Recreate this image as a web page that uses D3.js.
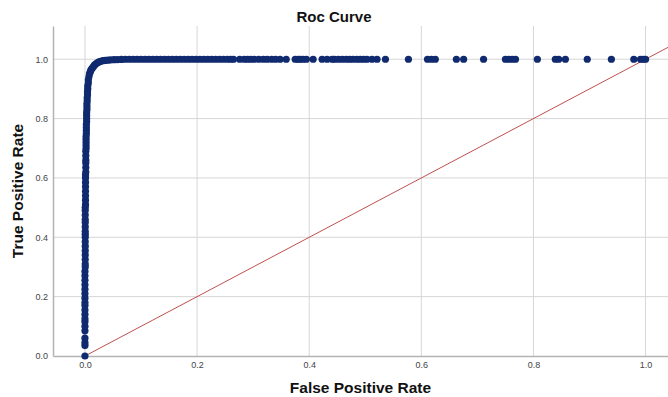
<!DOCTYPE html>
<html>
<head>
<meta charset="utf-8">
<script src="https://cdn.jsdelivr.net/npm/d3@7"></script>
<style>
  html, body { margin: 0; padding: 0; background: #fff; }
  svg { display: block; font-family: Arial, "Liberation Sans", sans-serif; }
</style>
</head>
<body>
<div id="chart"></div>
<script>
// chart text
const chartTitle = 'Roc Curve';
const xTitle = 'False Positive Rate';
const yTitle = 'True Positive Rate';

// tick labels
const xTicks = [0, 0.2, 0.4, 0.6, 0.8, 1.0];
const yTicks = [0, 0.2, 0.4, 0.6, 0.8, 1.0];

// steep part of the curve, fpr close to 0
const verticalTpr = [0, 0.035, 0.045, 0.06, 0.085, 0.10, 0.115, 0.125, 0.14, 0.155,
  0.17, 0.18, 0.195, 0.21, 0.225, 0.24, 0.255, 0.27, 0.285, 0.30,
  0.31, 0.325, 0.34, 0.355, 0.37, 0.385, 0.40, 0.41, 0.42, 0.435,
  0.45, 0.46, 0.475, 0.49, 0.50, 0.51, 0.525, 0.54, 0.555, 0.57,
  0.585, 0.60, 0.61, 0.62, 0.635, 0.65, 0.66, 0.675, 0.69, 0.70,
  0.71, 0.72, 0.73, 0.74, 0.75, 0.76, 0.77, 0.78, 0.79, 0.80,
  0.81, 0.82, 0.83, 0.84, 0.85, 0.86, 0.87, 0.88, 0.89, 0.90];
const verticalFpr = [0, 0, 0, 0, 0, 0, 0, 0, 0, 0,
  0, 0, 0, 0, 0, 0, 0, 0, 0, 0.0005,
  0.0005, 0.0005, 0.0005, 0.0005, 0.0005, 0.0005, 0.0005, 0.0005, 0.0005, 0.0005,
  0.0005, 0.0005, 0.0005, 0.0005, 0.0005, 0.001, 0.001, 0.001, 0.001, 0.001,
  0.001, 0.001, 0.001, 0.0015, 0.0015, 0.0015, 0.0015, 0.0015, 0.0015, 0.002,
  0.002, 0.002, 0.002, 0.002, 0.0025, 0.0025, 0.0025, 0.0025, 0.003, 0.003,
  0.003, 0.003, 0.0035, 0.0035, 0.0035, 0.004, 0.004, 0.0045, 0.0045, 0.005];

// bend of the curve
const elbowFpr = [0.005, 0.006, 0.006, 0.007, 0.008, 0.009, 0.010, 0.011, 0.013, 0.015,
  0.017, 0.019, 0.022, 0.025, 0.028, 0.032, 0.036, 0.041, 0.046, 0.052, 0.058, 0.065];
const elbowTpr = [0.91, 0.92, 0.93, 0.94, 0.95, 0.955, 0.96, 0.965, 0.97, 0.975,
  0.98, 0.984, 0.988, 0.991, 0.993, 0.995, 0.996, 0.997, 0.998, 0.9985, 0.999, 0.9995];

// points sitting on tpr = 1
const plateauFpr = [0.072, 0.079, 0.086, 0.093, 0.10, 0.107, 0.114, 0.121, 0.128, 0.135,
  0.142, 0.149, 0.156, 0.163, 0.17, 0.177, 0.184, 0.191, 0.198, 0.205,
  0.212, 0.219, 0.226, 0.233, 0.24, 0.247, 0.254, 0.26, 0.265, 0.276,
  0.284, 0.29, 0.296, 0.302, 0.31, 0.318, 0.325, 0.333, 0.34, 0.348,
  0.359, 0.375, 0.38, 0.384, 0.389, 0.395, 0.407, 0.423, 0.432, 0.441,
  0.445, 0.452, 0.459, 0.466, 0.472, 0.478, 0.485, 0.491, 0.497, 0.503,
  0.512, 0.521, 0.536, 0.577, 0.611, 0.618, 0.625, 0.6625, 0.6755, 0.711,
  0.75, 0.756, 0.762, 0.768, 0.807, 0.839, 0.845, 0.857, 0.896, 0.939,
  0.979, 0.991, 0.996, 1.0];

// reference diagonal
const diagonal = [0, 1.04];

const width = 668;
const height = 397;
const margin = { top: 26, right: 0, bottom: 41, left: 53 };

const points = [
  ...verticalFpr.map((f, i) => ({ fpr: f, tpr: verticalTpr[i] })),
  ...elbowFpr.map((f, i) => ({ fpr: f, tpr: elbowTpr[i] })),
  ...plateauFpr.map(f => ({ fpr: f, tpr: 1 }))
];

const svg = d3.select('#chart')
  .append('svg')
  .attr('width', width)
  .attr('height', height);

const x = d3.scaleLinear()
  .domain([-0.057, 1.04])
  .range([margin.left, width - margin.right]);

const y = d3.scaleLinear()
  .domain([0, 1.112])
  .range([height - margin.bottom, margin.top]);

// grid
svg.append('g')
  .selectAll('line')
  .data(xTicks)
  .join('line')
  .attr('x1', d => x(d)).attr('x2', d => x(d))
  .attr('y1', y.range()[0]).attr('y2', y.range()[1])
  .attr('stroke', '#d6d6d6')
  .attr('stroke-width', 1);

svg.append('g')
  .selectAll('line')
  .data(yTicks.filter(d => d > 0))
  .join('line')
  .attr('x1', x.range()[0]).attr('x2', x.range()[1])
  .attr('y1', d => y(d)).attr('y2', d => y(d))
  .attr('stroke', '#d6d6d6')
  .attr('stroke-width', 1);

// axes
const xAxis = svg.append('g')
  .attr('transform', `translate(0,${y.range()[0]})`)
  .call(d3.axisBottom(x).tickValues(xTicks).tickSize(0).tickPadding(6).tickFormat(d3.format('.1f')));

const yAxis = svg.append('g')
  .attr('transform', `translate(${x.range()[0]},0)`)
  .call(d3.axisLeft(y).tickValues(yTicks).tickSize(0).tickPadding(5).tickFormat(d3.format('.1f')));

[xAxis, yAxis].forEach(g => {
  g.select('.domain').attr('stroke', '#b3b3b3').attr('stroke-width', 1.5);
  g.selectAll('text')
    .attr('fill', '#444')
    .style('font-size', '9px')
    .style('font-family', 'Arial, "Liberation Sans", sans-serif');
});

// diagonal line
svg.append('line')
  .attr('x1', x(diagonal[0])).attr('y1', y(diagonal[0]))
  .attr('x2', x(diagonal[1])).attr('y2', y(diagonal[1]))
  .attr('stroke', '#c0504d')
  .attr('stroke-width', 1);

// curve points
svg.append('g')
  .selectAll('circle')
  .data(points)
  .join('circle')
  .attr('cx', d => x(d.fpr))
  .attr('cy', d => y(d.tpr))
  .attr('r', 3.6)
  .attr('fill', '#0f2a6e');

// titles
svg.append('text')
  .attr('x', width / 2)
  .attr('y', 22)
  .attr('text-anchor', 'middle')
  .style('font-weight', 'bold')
  .style('font-size', '15px')
  .attr('fill', '#111')
  .text(chartTitle);

svg.append('text')
  .attr('x', (x.range()[0] + x.range()[1]) / 2)
  .attr('y', 393)
  .attr('text-anchor', 'middle')
  .style('font-weight', 'bold')
  .style('font-size', '15.5px')
  .attr('fill', '#111')
  .text(xTitle);

svg.append('text')
  .attr('transform', `translate(23,${(y.range()[0] + y.range()[1]) / 2}) rotate(-90)`)
  .attr('text-anchor', 'middle')
  .style('font-weight', 'bold')
  .style('font-size', '15.5px')
  .attr('fill', '#111')
  .text(yTitle);
</script>
</body>
</html>
